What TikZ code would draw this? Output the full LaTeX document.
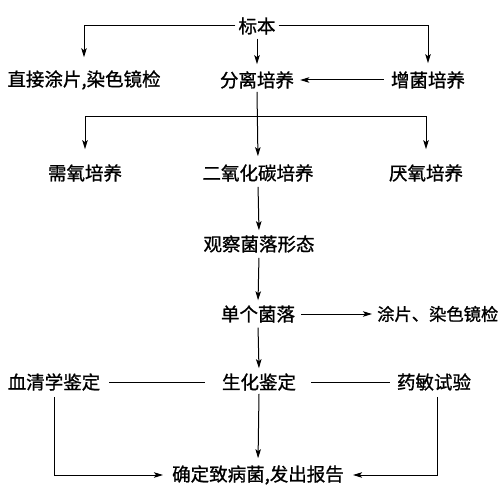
\documentclass[tikz,border=0pt]{standalone}
\usepackage{fontspec}
\setmainfont{Noto Sans CJK SC}[FakeBold=1]
\usetikzlibrary{arrows.meta}
\tikzset{
  lbl/.style={inner sep=3pt, font=\fontsize{18.5}{20}\selectfont, text=black},
  arr/.style={draw=black, line width=1pt, -{Stealth[length=9pt,width=5.5pt,inset=2pt]}},
  ln/.style={draw=black, line width=1pt},
}
\begin{document}
\begin{tikzpicture}[x=1pt,y=-1pt]
\fill[white] (0,0) rectangle (500,500);
\useasboundingbox (0,0) rectangle (500,500);

\node[lbl] (sample) at (257,26) {标本};
\node[lbl] (direct) at (84,80) {直接涂片,染色镜检};
\node[lbl] (sep) at (257,80) {分离培养};
\node[lbl] (enrich) at (428,80) {增菌培养};
\node[lbl] (aer) at (85,173) {需氧培养};
\node[lbl] (co2) at (258,173) {二氧化碳培养};
\node[lbl] (anaer) at (426,173) {厌氧培养};
\node[lbl] (obs) at (259,244) {观察菌落形态};
\node[lbl] (single) at (258,314) {单个菌落};
\node[lbl, anchor=west, font=\fontsize{17.3}{19}\selectfont] (smear) at (374,314) {涂片、染色镜检};
\node[lbl] (bio) at (259,382) {生化鉴定};
\node[lbl] (sero) at (54,382) {血清学鉴定};
\node[lbl] (drug) at (434,382) {药敏试验};
\node[lbl] (final) at (258,475) {确定致病菌,发出报告};

% top
\draw[arr, shorten >=10pt] (sample.west) -| (direct.north);
\draw[arr, shorten <=1pt, shorten >=4pt] (sample.south) -- (sep.north);
\draw[arr, shorten >=5pt] (sample.east) -| (enrich.north);
\draw[arr, shorten <=4pt, shorten >=3pt] (enrich.west) -- (sep.east);

% second level
\coordinate (split) at (257,117);
\draw[arr, shorten >=5pt] (sep.south) -- (co2.north);
\draw[arr, shorten >=12pt] (split) -| (aer.north);
\draw[arr, shorten >=12pt] (split) -| (anaer.north);

% chain
\draw[arr, shorten <=2pt, shorten >=2pt] (co2.south) -- (obs.north);
\draw[arr, shorten <=2pt, shorten >=2pt] (obs.south) -- (single.north);
\draw[arr, shorten <=3pt, shorten >=2pt] (single.east) -- (smear.west);
\draw[arr, shorten <=2pt, shorten >=2pt] (single.south) -- (bio.north);

% identification row
\draw[ln, shorten <=6pt, shorten >=14pt] (sero.east) -- (bio.west);
\draw[ln, shorten <=12pt, shorten >=4pt] (bio.east) -- (drug.west);
\draw[arr, shorten >=4pt] (bio.south) -- (final.north);
\draw[arr, shorten <=3pt, shorten >=6pt] (sero.south) |- (final.west);
\draw[arr, shorten <=3pt, shorten >=6pt] ([xshift=3pt]drug.south) |- (final.east);
\end{tikzpicture}
\end{document}
